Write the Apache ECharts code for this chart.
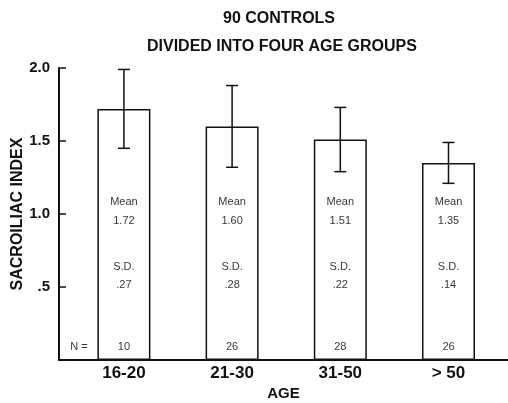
<!DOCTYPE html>
<html>
<head>
<meta charset="utf-8">
<script src="https://cdn.jsdelivr.net/npm/echarts@6/dist/echarts.min.js"></script>
<style>html,body{margin:0;padding:0;background:#fff;}#c{width:508px;height:403px;}</style>
</head>
<body>
<div id="c"></div>
<script>
const categories = ['16-20', '21-30', '31-50', '> 50'];
const means = [1.72, 1.60, 1.51, 1.35];
const sds = [0.27, 0.28, 0.22, 0.14];
const ns = [10, 26, 28, 26];
const meanLabels = ['1.72', '1.60', '1.51', '1.35'];
const sdLabels = ['.27', '.28', '.22', '.14'];
const yTickLabels = {0.5: '.5', 1: '1.0', 1.5: '1.5', 2: '2.0'};

const FONT = 'Liberation Sans, Arial, Helvetica, sans-serif';
const chart = echarts.init(document.getElementById('c'));

function textSeries(yPos, texts) {
  return {
    type: 'scatter', symbolSize: 0, silent: true, z: 5,
    data: texts.map((t, i) => ({value: [i, yPos], t: t})),
    label: {show: true, position: 'inside', formatter: p => p.data.t,
      fontFamily: FONT, fontSize: 11, color: '#000'}
  };
}

chart.setOption({
  animation: false,
  backgroundColor: '#fff',
  title: [
    {text: '90 CONTROLS', left: 218, top: 6,
     textStyle: {fontFamily: FONT, fontSize: 16, fontWeight: 'bold', color: '#111'}},
    {text: 'DIVIDED INTO FOUR AGE GROUPS', left: 142, top: 34,
     textStyle: {fontFamily: FONT, fontSize: 16, fontWeight: 'bold', color: '#111'}}
  ],
  grid: {left: 59, right: 0, top: 68, bottom: 43, containLabel: false, outerBoundsMode: 'none'},
  xAxis: {
    type: 'value', min: -0.6, max: 3.55,
    name: 'AGE', nameLocation: 'middle', nameGap: 26, nameMoveOverlap: false,
    nameTextStyle: {fontFamily: FONT, fontSize: 15, fontWeight: 'bold', color: '#111'},
    axisLine: {show: true, onZero: false, lineStyle: {color: '#111', width: 2}},
    axisTick: {show: false},
    splitLine: {show: false},
    axisLabel: {customValues: [0, 1, 2, 3], formatter: v => categories[Math.round(v)],
      fontFamily: FONT, fontSize: 17, fontWeight: 'bold', color: '#111', margin: 5}
  },
  yAxis: {
    type: 'value', min: 0, max: 2, interval: 0.5,
    name: 'SACROILIAC INDEX', nameLocation: 'middle', nameGap: 33, nameMoveOverlap: false,
    nameTextStyle: {fontFamily: FONT, fontSize: 16, fontWeight: 'bold', color: '#111'},
    axisLine: {show: true, onZero: false, lineStyle: {color: '#111', width: 2}},
    axisTick: {show: true, inside: true, length: 7, lineStyle: {color: '#111', width: 1.5}},
    splitLine: {show: false},
    axisLabel: {formatter: v => yTickLabels[v] || '', fontFamily: FONT, fontSize: 15,
      fontWeight: 'bold', color: '#111', margin: 9}
  },
  series: [
    {
      type: 'bar', barWidth: 53, silent: true, z: 2,
      data: means.map((m, i) => [i, m]),
      itemStyle: {color: '#fff', borderColor: '#111', borderWidth: 1.5}
    },
    {
      type: 'custom', silent: true, z: 4,
      data: means.map((m, i) => [i, m - sds[i], m + sds[i]]),
      renderItem: (params, api) => {
        const x = api.value(0);
        const lo = api.coord([x, api.value(1)]);
        const hi = api.coord([x, api.value(2)]);
        const hw = 6;
        const st = {stroke: '#111', lineWidth: 1.5};
        return {type: 'group', children: [
          {type: 'line', shape: {x1: lo[0], y1: lo[1], x2: hi[0], y2: hi[1]}, style: st},
          {type: 'line', shape: {x1: lo[0]-hw, y1: lo[1], x2: lo[0]+hw, y2: lo[1]}, style: st},
          {type: 'line', shape: {x1: hi[0]-hw, y1: hi[1], x2: hi[0]+hw, y2: hi[1]}, style: st}
        ]};
      }
    },
    textSeries(1.082, categories.map(() => 'Mean')),
    textSeries(0.952, meanLabels),
    textSeries(0.637, categories.map(() => 'S.D.')),
    textSeries(0.514, sdLabels),
    textSeries(0.089, ns.map(String)),
    {
      type: 'scatter', symbolSize: 0, silent: true, z: 5,
      data: [{value: [-0.415, 0.089]}],
      label: {show: true, position: 'inside', formatter: 'N =',
        fontFamily: FONT, fontSize: 11, color: '#000'}
    }
  ]
});
</script>
</body>
</html>
